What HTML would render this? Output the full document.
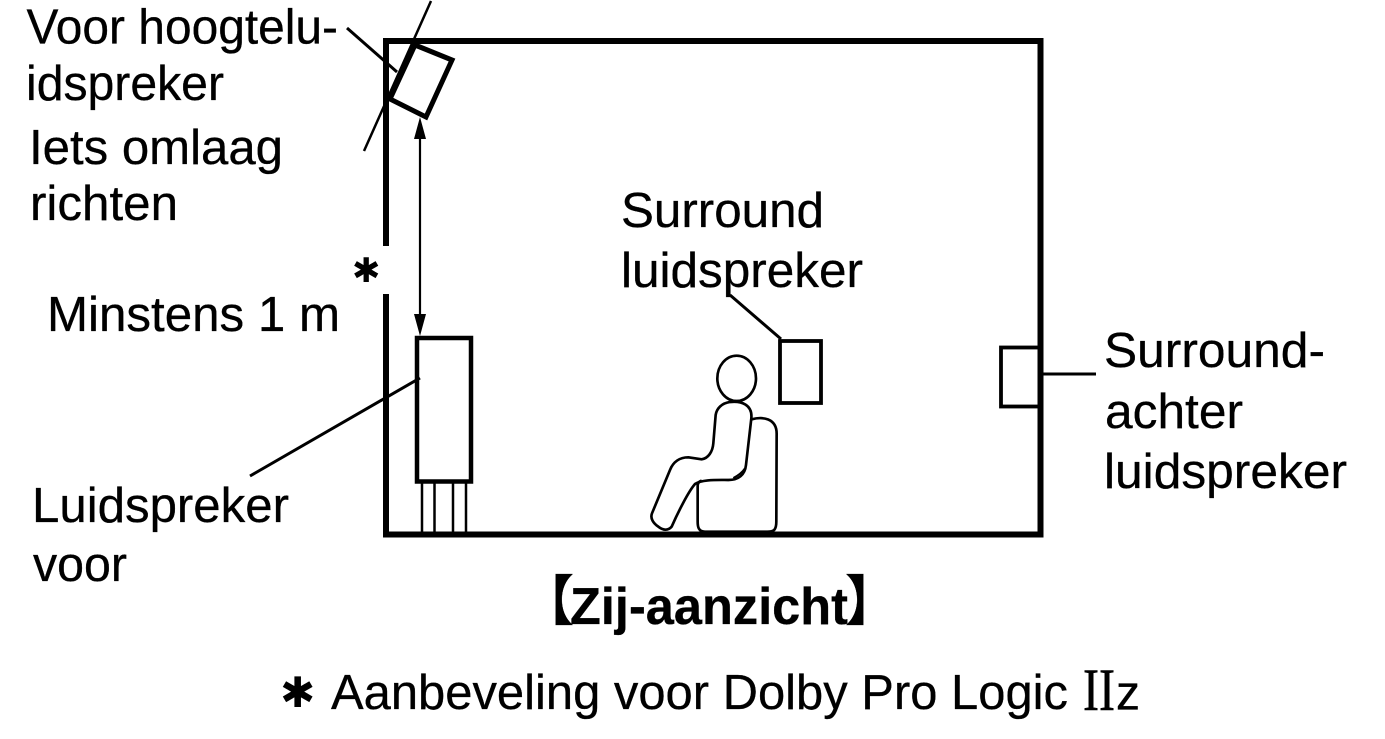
<!DOCTYPE html>
<html><head><meta charset="utf-8"><style>
html,body{margin:0;padding:0;background:#fff;width:1385px;height:739px;overflow:hidden}
svg{display:block}
text{font-family:"Liberation Sans",sans-serif;font-size:49.500px;fill:#000;stroke:#000;stroke-width:.3px}
</style></head><body>
<svg width="1385" height="739" viewBox="0 0 1385 739" xmlns="http://www.w3.org/2000/svg">
<g fill="none" stroke="#000">
<path d="M386 246V41H1040.500V534.500H386V294" stroke-width="6"/>
<path d="M415 45L452 60L426 117L390 99Z" stroke-width="5" fill="#fff"/>
<path d="M431 1L364 151" stroke-width="2.500"/>
<path d="M347 28L397 72" stroke-width="3"/>
<path d="M420 135V316" stroke-width="2.200"/>
<rect x="417" y="338" width="54" height="143.500" stroke-width="4.500"/>
<path d="M422 483V532M434.500 483V532M453 483V532M466 483V532" stroke-width="2.500"/>
<path d="M420 378L250 476" stroke-width="3"/>
<rect x="780" y="341" width="41" height="62" stroke-width="3.800"/>
<path d="M730 295L781 339" stroke-width="3"/>
<rect x="1001" y="347.500" width="39" height="59" stroke-width="3.800"/>
<path d="M1040 374H1096" stroke-width="3"/>
<g transform="translate(630 340) scale(.3333)" stroke-width="8" stroke-linejoin="round">
<ellipse cx="320" cy="115" rx="58" ry="68"/>
<path d="M365 238C395 230 442 232 440 285L439 545C439 570 432 575 412 575H225C205 575 203 560 203 545V440C203 430 205 425 215 422"/>
<path d="M300 186C335 182 368 195 364 235L348 375C345 405 325 420 295 420C260 420 215 418 195 432C175 455 145 515 125 560C115 572 100 572 85 560C70 550 60 535 66 520L120 390C130 365 150 352 175 352L215 358C235 355 248 335 250 310L257 225C260 205 275 190 300 186Z"/>
<path d="M345 385C335 400 322 408 310 414" stroke-width="6"/>
</g>
</g>
<path d="M420 117L414 139H426ZM420 336L414 314H426Z" fill="#000"/>
<text x="26.500" y="43.500" textLength="311.500" lengthAdjust="spacingAndGlyphs">Voor hoogtelu-</text>
<text x="26" y="100" textLength="198" lengthAdjust="spacingAndGlyphs">idspreker</text>
<text x="29" y="164" textLength="254" lengthAdjust="spacingAndGlyphs">Iets omlaag</text>
<text x="30" y="220" textLength="148" lengthAdjust="spacingAndGlyphs">richten</text>
<text x="47" y="331" textLength="293" lengthAdjust="spacingAndGlyphs">Minstens 1 m</text>
<text x="621" y="227" textLength="203" lengthAdjust="spacingAndGlyphs">Surround</text>
<text x="621" y="287" textLength="242" lengthAdjust="spacingAndGlyphs">luidspreker</text>
<text x="1104" y="367" textLength="221" lengthAdjust="spacingAndGlyphs">Surround-</text>
<text x="1105" y="428" textLength="138" lengthAdjust="spacingAndGlyphs">achter</text>
<text x="1104" y="488" textLength="243" lengthAdjust="spacingAndGlyphs">luidspreker</text>
<text x="32" y="522" textLength="257" lengthAdjust="spacingAndGlyphs">Luidspreker</text>
<text x="33" y="581" textLength="94" lengthAdjust="spacingAndGlyphs">voor</text>
<text x="570" y="624" textLength="278" lengthAdjust="spacingAndGlyphs" style="font-weight:700;font-size:52px">Zij-aanzicht</text>
<text x="520" y="620" style="font-family:'Noto Sans CJK JP',sans-serif;font-weight:700;font-size:54px">【</text>
<text x="845" y="620" style="font-family:'Noto Sans CJK JP',sans-serif;font-weight:700;font-size:54px">】</text>
<text x="352" y="282" style="font-family:'DejaVu Sans',sans-serif;font-size:34px;stroke:none">✱</text>
<text x="280" y="707" style="font-family:'DejaVu Sans',sans-serif;font-size:42px;stroke:none">✱</text>
<text x="331" y="709" textLength="737" lengthAdjust="spacingAndGlyphs">Aanbeveling voor Dolby Pro Logic</text>
<text x="1083" y="710" textLength="32" lengthAdjust="spacingAndGlyphs" style="font-family:'Liberation Serif',serif;font-size:60px;stroke-width:.6px">II</text>
<text x="1116" y="709.500" textLength="24" lengthAdjust="spacingAndGlyphs">z</text>
</svg>
</body></html>
